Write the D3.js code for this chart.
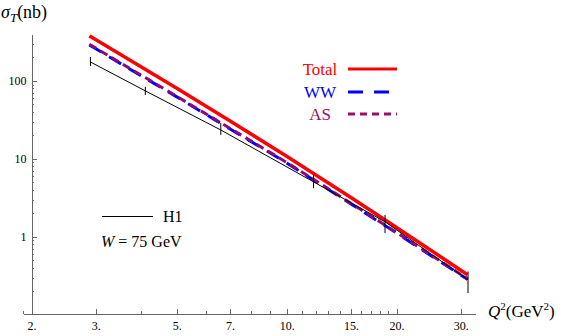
<!DOCTYPE html>
<html>
  <head>
    <meta charset="utf-8" />
    <script src="https://d3js.org/d3.v7.min.js"></script>
    <style>
      body { margin: 0; background: #fff; }
      svg text { font-family: "Liberation Serif"; }
      .axis path, .axis line { stroke: #666; shape-rendering: crispEdges; }
    </style>
  </head>
  <body>
    <svg id="chart" width="581" height="336"></svg>
    <script>
      // Q^2 values (GeV^2) where the model curves were read
      const q2Curves = [2.88, 4, 5, 7, 10, 15, 20, 25, 31.3];
      const sigmaTotal = [378, 151, 80.5, 30.6, 10.8, 3.19, 1.32, 0.66, 0.326];
      const sigmaWW = [290, 116, 62.4, 24.2, 8.85, 2.65, 1.12, 0.565, 0.285];
      const sigmaAS = [295, 118, 63.4, 24.6, 9.0, 2.7, 1.14, 0.575, 0.29];

      // H1 points, W = 75 GeV
      const q2H1 = [2.9, 4.1, 6.6, 11.85, 18.6, 31.4];
      const sigmaH1 = [175, 74.5, 23.5, 5.07, 1.56, 0.281];
      const sigmaH1Lo = [155, 66, 20.3, 4.2, 1.12, 0.19];
      const sigmaH1Hi = [203, 84, 29, 6.2, 1.91, 0.36];

      // ticks
      const xMajor = [2, 3, 5, 7, 10, 15, 20, 30];
      const xMinor = [1.9, 4, 6, 8, 9, 11, 12, 13, 14, 16, 17, 18, 19];
      const yMajor = [1, 10, 100];
      const yMinor = [0.2, 0.3, 0.4, 0.5, 0.6, 0.7, 0.8, 0.9,
                      2, 3, 4, 5, 6, 7, 8, 9,
                      20, 30, 40, 50, 60, 70, 80, 90, 200, 300];

      const svg = d3.select('#chart');

      const x = d3.scaleLog().domain([1.9, 33]).range([23.4, 475.9]);
      const y = d3.scaleLog().domain([0.104, 400]).range([313.5, 34]);
      const x0 = x(2), y0 = y(0.104);

      // x axis
      svg.append('g')
         .attr('class', 'axis')
         .attr('transform', `translate(0,${y0})`)
         .call(d3.axisBottom(x).tickValues(xMinor).tickFormat('')
                 .tickSizeInner(-2.5).tickSizeOuter(0));
      svg.append('g')
         .attr('class', 'axis')
         .attr('transform', `translate(0,${y0})`)
         .call(d3.axisBottom(x).tickValues(xMajor).tickFormat(d => d + '.')
                 .tickSizeInner(-5).tickSizeOuter(0).tickPadding(8))
         .call(g => g.select('.domain').remove());

      // y axis
      svg.append('g')
         .attr('class', 'axis')
         .attr('transform', `translate(${x0},0)`)
         .call(d3.axisLeft(y).tickValues(yMinor).tickFormat('')
                 .tickSizeInner(-2.5).tickSizeOuter(0));
      svg.append('g')
         .attr('class', 'axis')
         .attr('transform', `translate(${x0},0)`)
         .call(d3.axisLeft(y).tickValues(yMajor).tickFormat(d3.format('d'))
                 .tickSizeInner(-5).tickSizeOuter(0).tickPadding(5))
         .call(g => g.select('.domain').remove());

      svg.selectAll('.axis').attr('font-family', null).attr('font-size', null);
      svg.selectAll('.axis text').attr('fill', '#000').style('font-size', '12px');

      const smooth = d3.line()
        .x(d => x(d[0]))
        .y(d => y(d[1]))
        .curve(d3.curveMonotoneX);

      const curves = [
        { vals: sigmaTotal, color: '#ff0000', width: 3.5, dash: null },
        { vals: sigmaWW, color: '#0000ff', width: 3, dash: '14,9' },
        { vals: sigmaAS, color: '#8c0a78', width: 3, dash: '8,5' }
      ];
      curves.forEach(c => {
        svg.append('path')
           .datum(q2Curves.map((q, i) => [q, c.vals[i]]))
           .attr('d', smooth)
           .attr('fill', 'none')
           .attr('stroke', c.color)
           .attr('stroke-width', c.width)
           .attr('stroke-dasharray', c.dash);
      });

      // H1 points joined by straight segments, with error bars
      const straight = d3.line().x(d => x(d[0])).y(d => y(d[1]));
      svg.append('path')
         .datum(q2H1.map((q, i) => [q, sigmaH1[i]]))
         .attr('d', straight)
         .attr('fill', 'none')
         .attr('stroke', '#000')
         .attr('stroke-width', 1);
      svg.selectAll('.err')
         .data(q2H1)
         .enter().append('line')
           .attr('x1', d => x(d)).attr('x2', d => x(d))
           .attr('y1', (d, i) => y(sigmaH1Lo[i]))
           .attr('y2', (d, i) => y(sigmaH1Hi[i]))
           .attr('stroke', '#000')
           .attr('stroke-width', 1);

      // axis labels
      const yl = svg.append('text').attr('x', 1).attr('y', 18).style('font-size', '18px');
      yl.append('tspan').attr('font-style', 'italic').text('σ');
      yl.append('tspan').attr('font-style', 'italic').style('font-size', '13px').attr('dy', 4).text('T');
      yl.append('tspan').attr('dy', -4).text('(nb)');

      const xl = svg.append('text').attr('x', 488).attr('y', 317).style('font-size', '17px');
      xl.append('tspan').attr('font-style', 'italic').text('Q');
      xl.append('tspan').style('font-size', '11px').attr('dy', -7).text('2');
      xl.append('tspan').attr('dy', 7).text('(GeV');
      xl.append('tspan').style('font-size', '11px').attr('dy', -7).text('2');
      xl.append('tspan').attr('dy', 7).text(')');

      // legend
      const legend = [
        { name: 'Total', color: '#ff0000', width: 3, dash: null, y: 69 },
        { name: 'WW', color: '#0000ff', width: 3, dash: '15,11', y: 92 },
        { name: 'AS', color: '#9a1062', width: 3, dash: '7,5', y: 114 }
      ];
      legend.forEach(l => {
        svg.append('text')
           .attr('x', 320).attr('y', l.y + 6)
           .attr('text-anchor', 'middle')
           .style('font-size', '17px')
           .attr('fill', l.color)
           .text(l.name);
        svg.append('line')
           .attr('x1', 348).attr('x2', 397)
           .attr('y1', l.y).attr('y2', l.y)
           .attr('stroke', l.color)
           .attr('stroke-width', l.width)
           .attr('stroke-dasharray', l.dash);
      });

      svg.append('line')
         .attr('x1', 102).attr('x2', 153)
         .attr('y1', 216.5).attr('y2', 216.5)
         .attr('stroke', '#000').attr('stroke-width', 1);
      svg.append('text')
         .attr('x', 163).attr('y', 222)
         .style('font-size', '16px')
         .text('H1');
      const wt = svg.append('text').attr('x', 101).attr('y', 247).style('font-size', '16px');
      wt.append('tspan').attr('font-style', 'italic').text('W');
      wt.append('tspan').text(' = 75 GeV');
    </script>
  </body>
</html>
